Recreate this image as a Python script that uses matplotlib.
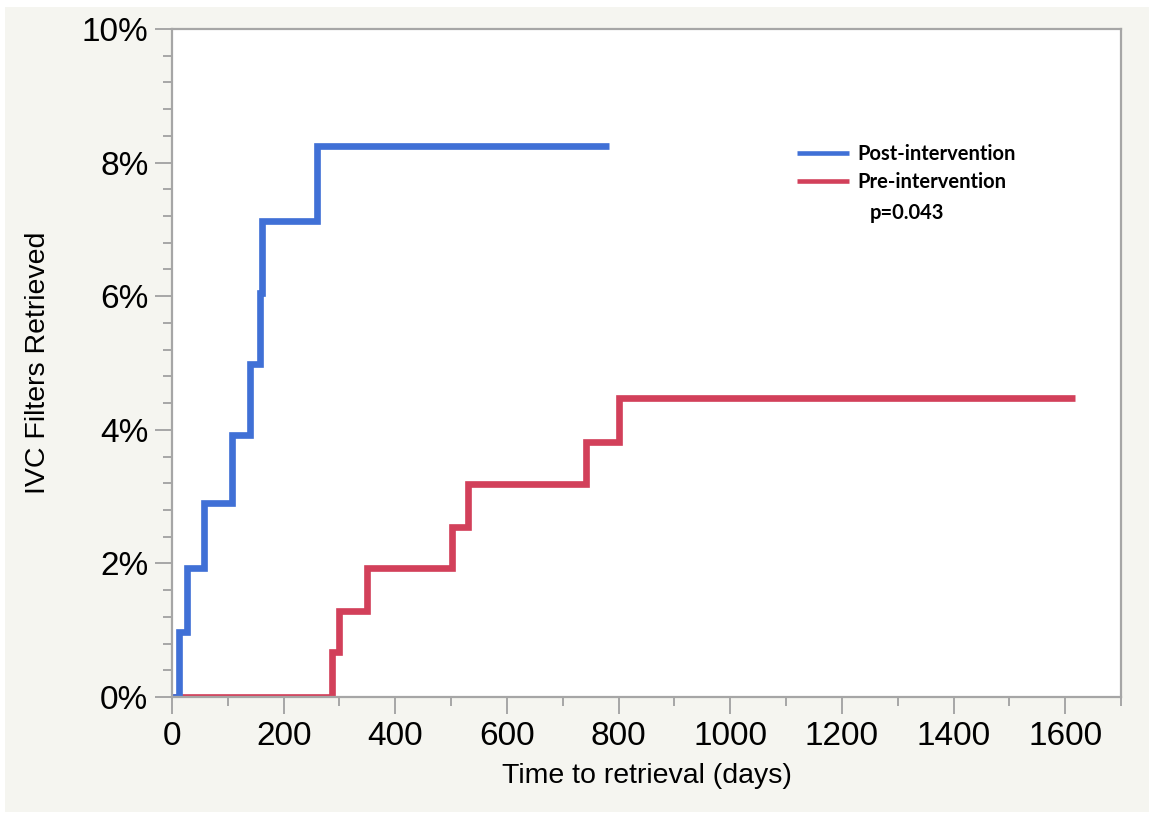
import numpy as np
import matplotlib.pyplot as plt
from matplotlib.patches import Rectangle
from matplotlib.ticker import MultipleLocator, FuncFormatter

# cumulative retrieval curves (days, percent), step after each event
post_days = [0, 12, 26, 57, 107, 140, 157, 161, 260, 782]
post_pct = [0, 0.97, 1.93, 2.90, 3.92, 4.98, 6.05, 7.12, 8.25, 8.25]

pre_days = [0, 286, 299, 350, 502, 530, 742, 801, 1617]
pre_pct = [0, 0.67, 1.29, 1.93, 2.55, 3.19, 3.82, 4.48, 4.48]

labels = ['Post-intervention', 'Pre-intervention']
p_text = 'p=0.043'

blue = '#4070d6'
red = '#d2405a'
grey = '#a6a6a6'

plt.rcParams['font.family'] = ['Liberation Sans', 'DejaVu Sans']

fig = plt.figure(figsize=(11.54, 8.17), dpi=100, facecolor='white')
# off-white panel behind the chart
fig.patches.append(Rectangle((5 / 1154, 5 / 817), 1144 / 1154, 805 / 817,
                             transform=fig.transFigure, facecolor='#f5f5f0',
                             edgecolor='none', zorder=-10))

ax = fig.add_axes([172 / 1154, 120 / 817, 949 / 1154, 668 / 817])
ax.set_facecolor('white')

ax.step(pre_days, pre_pct, where='post', color=red, lw=4.8, label=labels[1],
        solid_joinstyle='miter', solid_capstyle='butt')
ax.step(post_days, post_pct, where='post', color=blue, lw=4.8, label=labels[0],
        solid_joinstyle='miter', solid_capstyle='butt')

ax.set_xlim(0, 1700)
ax.set_ylim(0, 10)
ax.xaxis.set_major_locator(MultipleLocator(200))
ax.xaxis.set_minor_locator(MultipleLocator(100))
ax.yaxis.set_major_locator(MultipleLocator(2))
ax.yaxis.set_minor_locator(MultipleLocator(0.4))
ax.yaxis.set_major_formatter(FuncFormatter(lambda v, p: '%d%%' % round(v)))

for s in ax.spines.values():
    s.set_color(grey)
    s.set_linewidth(1.6)

ax.tick_params(which='major', length=12, width=1.4, color=grey, labelsize=24,
               pad=5)
ax.tick_params(which='minor', length=6.5, width=1.4, color=grey)

ax.set_xlabel('Time to retrieval (days)', fontsize=20.5, labelpad=8)
ax.set_ylabel('IVC Filters Retrieved', fontsize=20.5, labelpad=22)

h, l = ax.get_legend_handles_labels()
leg = ax.legend(h[::-1], l[::-1], loc='upper left',
                bbox_to_anchor=(0.6586, 0.828), frameon=False,
                borderpad=0, borderaxespad=0, handlelength=2.6,
                handletextpad=0.4, labelspacing=0.4,
                prop={'family': 'Lato', 'weight': 'bold', 'size': 14.5})
for line in leg.get_lines():
    line.set_linewidth(3.3)
ax.text(0.735, 0.725, p_text, transform=ax.transAxes, fontsize=14.5,
        family='Lato', fontweight='bold', va='center')

fig.savefig('out.png', dpi=100, facecolor=fig.get_facecolor())
